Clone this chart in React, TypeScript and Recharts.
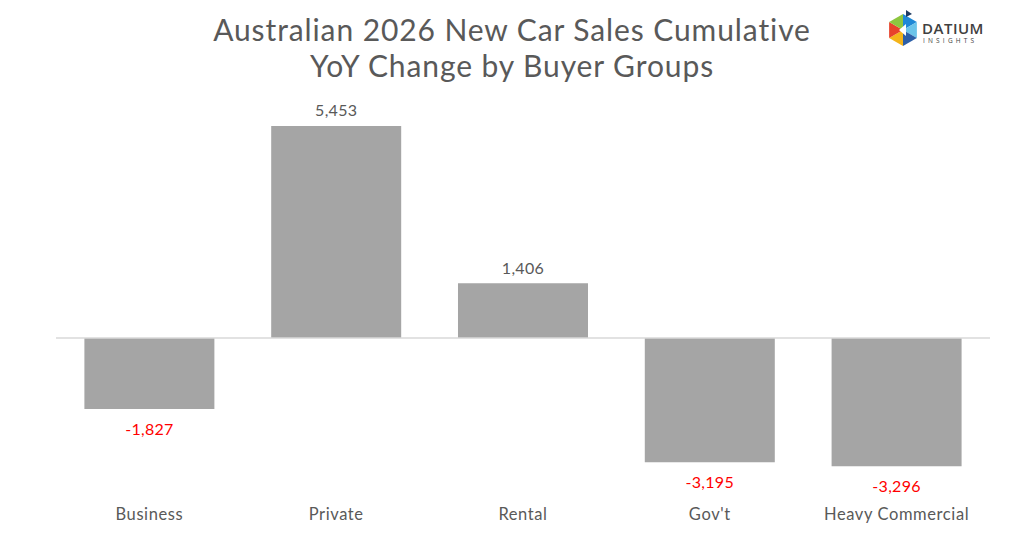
import { BarChart, Bar, XAxis, YAxis, ReferenceLine, LabelList, Cell } from 'recharts'

// ─── Data ────────────────────────────────────────────────────────────────────
const CATEGORIES = ['Business', 'Private', 'Rental', "Gov't", 'Heavy Commercial']
const YOY_CHANGE = [-1827, 5453, 1406, -3195, -3296]

const data = CATEGORIES.map((name, i) => ({ name, value: YOY_CHANGE[i] }))

const FONT = "'Century Gothic', 'URW Gothic', Lato, 'Open Sans', sans-serif"
const TEXT_GREY = '#595959'
const BAR_GREY = '#a5a5a5'

const fmt = (v: number) => v.toLocaleString('en-US')

function ValueLabel(props: any) {
  const { x, y, width, height, value } = props
  const top = Math.min(y, y + height)
  const bottom = Math.max(y, y + height)
  const neg = value < 0
  return (
    <text
      x={x + width / 2}
      y={neg ? bottom + 19 : top - 16}
      textAnchor="middle"
      dominantBaseline="central"
      fontFamily={FONT}
      fontSize={16}
      letterSpacing={0.3}
      fill={neg ? '#ff0000' : TEXT_GREY}
    >
      {fmt(value)}
    </text>
  )
}

// small hexagon logo made of coloured triangles
function Logo() {
  const cx = 903
  const cy = 30
  const r = 16
  const colors = ['#1e88d6', '#6bc4ea', '#2c5fa8', '#f4b41a', '#e8412b', '#8dc63f']
  const pts = Array.from({ length: 6 }, (_, i) => {
    const a = (Math.PI / 3) * i - Math.PI / 2
    return [cx + r * Math.cos(a), cy + r * Math.sin(a)]
  })
  return (
    <svg width={1024} height={60} style={{ position: 'absolute', left: 0, top: 0 }}>
      {pts.map((p, i) => {
        const q = pts[(i + 1) % 6]
        return <polygon key={i} points={`${cx},${cy} ${p[0]},${p[1]} ${q[0]},${q[1]}`} fill={colors[i]} />
      })}
      <polygon points={`${cx - 4},${cy} ${cx + 3},${cy - 6} ${cx + 3},${cy + 6}`} fill="#ffffff" />
      <polygon points={`${cx + 3},${cy - 20} ${cx + 9},${cy - 16} ${cx + 3},${cy - 13}`} fill="#1f3b63" />
      <text x={922} y={34} fontFamily="'Open Sans', sans-serif" fontSize={15} fontWeight={600} fill="#404040" letterSpacing={0.5}>
        DATIUM
      </text>
      <text x={923} y={43} fontFamily="'Open Sans', sans-serif" fontSize={6.5} fill="#404040" letterSpacing={3.2}>
        INSIGHTS
      </text>
    </svg>
  )
}

export default function App() {
  return (
    <div style={{ position: 'absolute', left: 0, top: 0, width: 1024, height: 536, background: '#ffffff' }}>
      <div
        style={{
          position: 'absolute',
          left: 0,
          top: 11,
          width: 1024,
          textAlign: 'center',
          fontFamily: FONT,
          fontSize: 30,
          lineHeight: '36px',
          letterSpacing: 0.9,
          color: TEXT_GREY,
        }}
      >
        Australian 2026 New Car Sales Cumulative
        <br />
        YoY Change by Buyer Groups
      </div>
      <Logo />
      <div style={{ position: 'absolute', left: 0, top: 0 }}>
        <BarChart
          width={1024}
          height={536}
          data={data}
          margin={{ top: 104.7, right: 34, left: 56, bottom: 12.5 }}
          barCategoryGap="15.2%"
        >
          <XAxis
            dataKey="name"
            height={30}
            axisLine={false}
            tickLine={false}
            tickMargin={9}
            interval={0}
            tick={{ fontSize: 16.5, fill: TEXT_GREY, fontFamily: FONT, letterSpacing: 0.6 }}
          />
          <YAxis hide domain={[-4000, 6000]} />
          <ReferenceLine y={0} stroke="#d9d9d9" strokeWidth={1.5} />
          <Bar dataKey="value" fill={BAR_GREY} isAnimationActive={false}>
            {data.map((d) => (
              <Cell key={d.name} fill={BAR_GREY} />
            ))}
            <LabelList dataKey="value" content={<ValueLabel />} />
          </Bar>
        </BarChart>
      </div>
    </div>
  )
}
